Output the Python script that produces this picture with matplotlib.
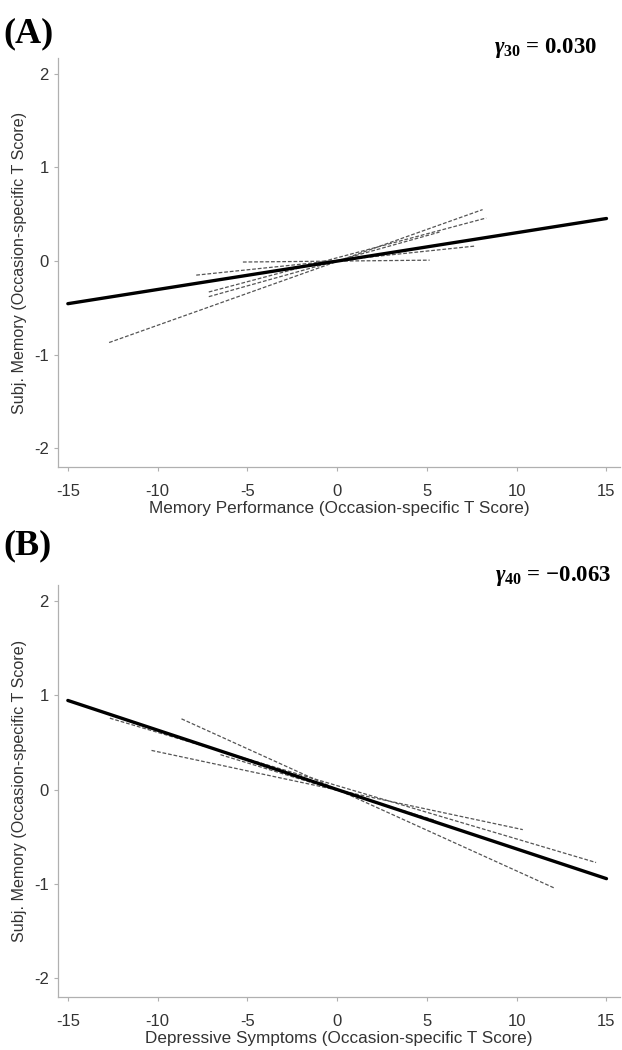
import matplotlib
matplotlib.use("Agg")
import matplotlib.pyplot as plt

plt.rcParams['font.family'] = ['Liberation Sans', 'DejaVu Sans']
plt.rcParams['mathtext.fontset'] = 'custom'
plt.rcParams['mathtext.it'] = 'Liberation Serif:italic:bold'
plt.rcParams['mathtext.rm'] = 'Liberation Serif:bold'

# fixed-effect lines (x range and endpoints)
fixed_x = [-15, 15]
fixed_a = [-0.455, 0.455]
fixed_b = [0.945, -0.945]

# person-specific dashed lines: x0, x1, y0, y1
a_x0 = [-12.7, -7.15, -7.15, -7.85, -5.25]
a_x1 = [8.1, 8.3, 5.7, 7.65, 5.15]
a_y0 = [-0.87, -0.33, -0.38, -0.15, -0.01]
a_y1 = [0.55, 0.46, 0.31, 0.16, 0.01]

b_x0 = [-8.67, -10.34, -12.66, -6.5]
b_x1 = [12.1, 10.34, 14.42, 5.5]
b_y0 = [0.75, 0.415, 0.757, 0.37]
b_y1 = [-1.045, -0.425, -0.774, -0.33]

xticks = [-15, -10, -5, 0, 5, 10, 15]
yticks = [-2, -1, 0, 1, 2]

fig = plt.figure(figsize=(6.22, 10.5), dpi=100)
axA = fig.add_axes([0.0932, 0.5552, 0.9035, 0.3896])
axB = fig.add_axes([0.0932, 0.0505, 0.9035, 0.3924])


def style(ax, xlabel):
    ax.set_xlim(-15.55, 15.75)
    ax.set_ylim(-2.2, 2.17)
    ax.set_xticks(xticks)
    ax.set_yticks(yticks)
    ax.set_xticklabels([str(t) for t in xticks])
    ax.set_yticklabels([str(t) for t in yticks])
    for s in ['top', 'right']:
        ax.spines[s].set_visible(False)
    for s in ['left', 'bottom']:
        ax.spines[s].set_color('#b0b0b0')
        ax.spines[s].set_linewidth(0.9)
    ax.tick_params(colors='#b0b0b0', labelcolor='#333333', labelsize=12,
                   length=3, width=0.8)
    ax.tick_params(axis='x', pad=9)
    ax.set_xlabel(xlabel, fontsize=12.3, color='#333333', labelpad=2)
    ax.set_ylabel('Subj. Memory (Occasion-specific T Score)', fontsize=11.6,
                  color='#333333', labelpad=5)


for x0, x1, y0, y1 in zip(a_x0, a_x1, a_y0, a_y1):
    axA.plot([x0, x1], [y0, y1], color='#555555', lw=0.9, ls=(0, (3, 1.5)))
axA.plot(fixed_x, fixed_a, color='black', lw=2.4, solid_capstyle='round')
style(axA, 'Memory Performance (Occasion-specific T Score)')

for x0, x1, y0, y1 in zip(b_x0, b_x1, b_y0, b_y1):
    axB.plot([x0, x1], [y0, y1], color='#555555', lw=0.9, ls=(0, (3, 1.5)))
axB.plot(fixed_x, fixed_b, color='black', lw=2.4, solid_capstyle='round')
style(axB, 'Depressive Symptoms (Occasion-specific T Score)')

serif = ['Liberation Serif', 'DejaVu Serif']
fig.text(0.006, 0.968, '(A)', fontsize=26, fontweight='bold', family=serif,
         va='center', ha='left')
fig.text(0.006, 0.48, '(B)', fontsize=26, fontweight='bold', family=serif,
         va='center', ha='left')
fig.text(0.96, 0.954, r'$\gamma_{\mathit{30}}$' + ' = 0.030', fontsize=16.5,
         fontweight='bold', family=serif, ha='right', va='center')
fig.text(0.982, 0.451, r'$\gamma_{\mathit{40}}$' + ' = \u22120.063', fontsize=16.5,
         fontweight='bold', family=serif, ha='right', va='center')

fig.savefig('out.png', dpi=100)
